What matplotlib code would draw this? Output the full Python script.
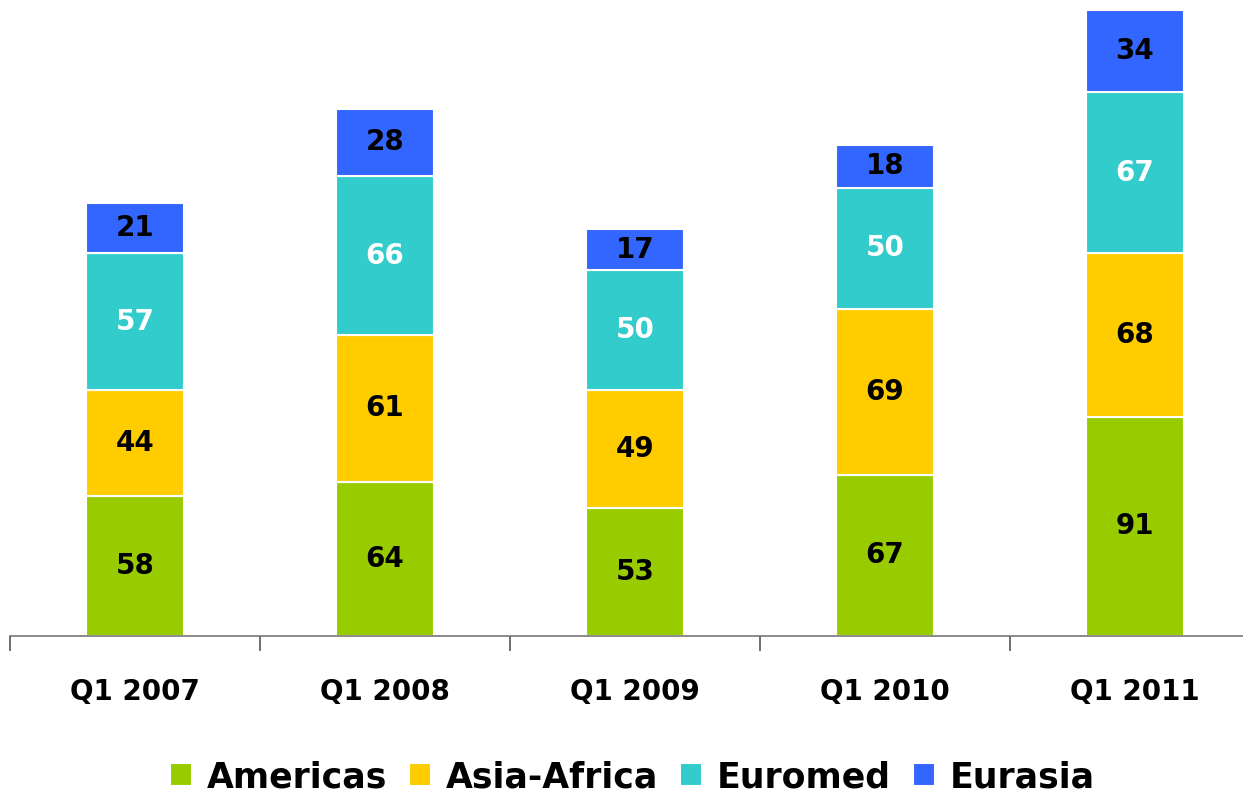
import numpy as np
import matplotlib.pyplot as plt

plt.rcParams['font.family'] = ['DejaVu Sans']

quarters = ["Q1 2007", "Q1 2008", "Q1 2009", "Q1 2010", "Q1 2011"]
regions = ["Americas", "Asia-Africa", "Euromed", "Eurasia"]
americas = [58, 64, 53, 67, 91]
asia_africa = [44, 61, 49, 69, 68]
euromed = [57, 66, 50, 50, 67]
eurasia = [21, 28, 17, 18, 34]

colors = ["#99CC00", "#FFCC00", "#33CCCC", "#3366FF"]
text_colors = ["black", "black", "white", "black"]

fig = plt.figure(figsize=(12.43, 7.96), dpi=100)
ax = fig.add_axes([10 / 1243, 160 / 796, 1233 / 1243, 626 / 796])

x = np.arange(len(quarters))
bottom = np.zeros(len(quarters))
handles = []
for name, vals, col, tcol in zip(regions, [americas, asia_africa, euromed, eurasia],
                                 colors, text_colors):
    vals = np.array(vals, dtype=float)
    bars = ax.bar(x, vals, width=0.39, bottom=bottom, color=col,
                  edgecolor="white", linewidth=1.5, label=name)
    handles.append(bars)
    for xi, b, v in zip(x, bottom, vals):
        ax.text(xi, b + v / 2, f"{int(v)}", ha="center", va="center",
                fontsize=20, fontweight="bold", color=tcol)
    bottom += vals

# group separators as major ticks, quarter names as minor tick labels
ax.set_yticks([])
ax.set_xticks(np.arange(-0.5, 5.0, 1.0), minor=False)
ax.set_xticklabels([])
ax.tick_params(axis="x", length=11, width=1.2, color="#555555", direction="out")
ax.set_xticks(x, minor=True)
ax.set_xticklabels(quarters, minor=True, fontsize=20, fontweight="bold")
ax.tick_params(axis="x", which="minor", length=0, pad=30)
ax.set_xlim(-0.5, -0.5 + 1233 / 250)
ax.set_ylim(0, 260)

for side in ["left", "right", "top"]:
    ax.spines[side].set_visible(False)
ax.spines["bottom"].set_color("#777777")
ax.spines["bottom"].set_linewidth(1.2)

fig.legend(handles=handles, labels=regions, loc="center", bbox_to_anchor=(0.509, 1 - 777 / 796),
           ncol=4, frameon=False, prop={"weight": "bold", "size": 25},
           handlelength=0.63, handleheight=0.63, handletextpad=0.43, columnspacing=0.63)

fig.savefig("out.png", dpi=100)
